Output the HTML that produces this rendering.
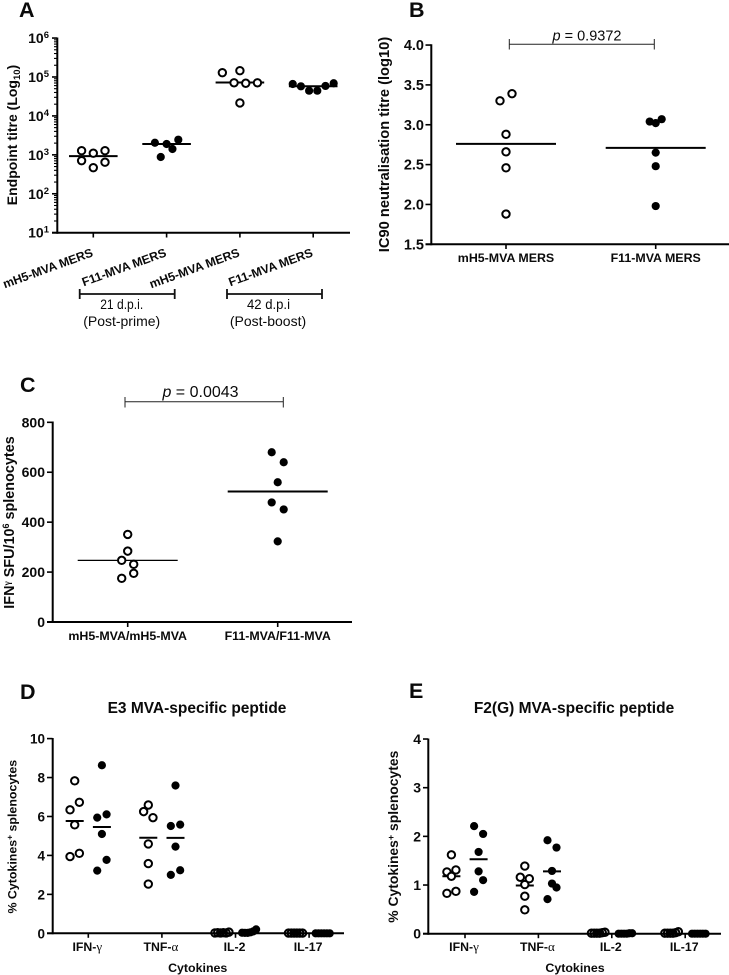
<!DOCTYPE html>
<html lang="en">
<head>
<meta charset="utf-8">
<title>Immune response scatter panels</title>
<style>
html,body{margin:0;padding:0;background:#fff;}
svg{display:block;font-family:"Liberation Sans",sans-serif;}
text{fill:#0a0a0a;}
.b{font-weight:700;}
</style>
</head>
<body>
<svg id="fig" xmlns="http://www.w3.org/2000/svg" width="729" height="975" viewBox="0 0 729 975">
  <rect width="729" height="975" fill="#fff"/>
  <text class="b" x="19" y="17" font-size="21.5">A</text>
  <text class="b" x="409" y="17" font-size="21.5">B</text>
  <text class="b" x="20" y="392" font-size="21.5">C</text>
  <text class="b" x="20" y="699" font-size="21.5">D</text>
  <text class="b" x="409" y="698" font-size="21.5">E</text>

  <text class="b" font-size="14" text-anchor="middle" transform="translate(17,135) rotate(-90)">Endpoint titre (Log<tspan font-size="9.5" dy="3">10</tspan><tspan dy="-3">)</tspan></text>
  <text class="b" font-size="14.7" text-anchor="middle" transform="translate(389,144.5) rotate(-90)">IC90 neutralisation titre (log10)</text>
  <text class="b" font-size="14.4" text-anchor="middle" transform="translate(14,522.5) rotate(-90)">IFN<tspan font-size="9" dy="-4" font-family="Liberation Serif">γ</tspan><tspan dy="4"> SFU/10</tspan><tspan font-size="9" dy="-5">6</tspan><tspan dy="5"> splenocytes</tspan></text>
  <text class="b" font-size="12.4" text-anchor="middle" transform="translate(16.5,836.7) rotate(-90)">% Cytokines<tspan font-size="8.5" dy="-4">+</tspan><tspan dy="4"> splenocytes</tspan></text>
  <text class="b" font-size="13.9" text-anchor="middle" transform="translate(398,836.7) rotate(-90)">% Cytokines<tspan font-size="9" dy="-4">+</tspan><tspan dy="4"> splenocytes</tspan></text>

  <g stroke="#111" stroke-width="1.8">
    <line x1="79.7" y1="294" x2="174.7" y2="294"/><line x1="79.7" y1="289" x2="79.7" y2="299"/><line x1="174.7" y1="289" x2="174.7" y2="299"/>
  </g>
  <g stroke="#111" stroke-width="1.8">
    <line x1="227" y1="294" x2="322" y2="294"/><line x1="227" y1="289" x2="227" y2="299"/><line x1="322" y1="289" x2="322" y2="299"/>
  </g>
  <text x="121.7" y="309" font-size="14" text-anchor="middle" textLength="43" lengthAdjust="spacingAndGlyphs">21 d.p.i.</text>
  <text x="121.7" y="326" font-size="14" text-anchor="middle">(Post-prime)</text>
  <text x="268.5" y="309" font-size="14" text-anchor="middle" textLength="43" lengthAdjust="spacingAndGlyphs">42 d.p.i</text>
  <text x="268" y="326" font-size="14" text-anchor="middle">(Post-boost)</text>

  <g stroke="#222" stroke-width="1">
    <line x1="509.3" y1="44.3" x2="654.3" y2="44.3"/><line x1="509.3" y1="39" x2="509.3" y2="49.5"/><line x1="654.3" y1="39" x2="654.3" y2="49.5"/>
  </g>
  <text x="587" y="40.5" font-size="14.5" text-anchor="middle"><tspan font-style="italic">p</tspan> = 0.9372</text>
  <g stroke="#222" stroke-width="1">
    <line x1="125" y1="401.7" x2="283.3" y2="401.7"/><line x1="125" y1="397" x2="125" y2="407.5"/><line x1="283.3" y1="397" x2="283.3" y2="407.5"/>
  </g>
  <text x="200.5" y="397" font-size="16" text-anchor="middle"><tspan font-style="italic">p</tspan> = 0.0043</text>

  <text class="b" x="197" y="713" font-size="15.5" text-anchor="middle">E3 MVA-specific peptide</text>
  <text class="b" x="574" y="713" font-size="15.5" text-anchor="middle">F2(G) MVA-specific peptide</text>
  <text class="b" x="197.7" y="972" font-size="12.4" text-anchor="middle">Cytokines</text>
  <text class="b" x="575" y="972" font-size="12.4" text-anchor="middle">Cytokines</text>
</svg>
<script>
// Panel A: endpoint titres
const aCategories = ['mH5-MVA MERS', 'F11-MVA MERS', 'mH5-MVA MERS', 'F11-MVA MERS'];
const aExponents = [1, 2, 3, 4, 5, 6];
const aSeries1 = [1276, 1100, 1276, 708, 646, 468];
const aSeries2 = [2040, 1900, 2450, 1410, 880];
const aSeries3 = [129000, 145000, 71000, 69000, 71000, 21500];
const aSeries4 = [66000, 57600, 44400, 44400, 58900, 69000];
const aMedians = [930, 1900, 72000, 58000];
const aSlots1 = [-2, 0, 2, -2, 2, 0];
const aSlots2 = [-2, 0, 2, 1, -1];
const aSlots3 = [-3, 0, -1, 1, 3, 0];
const aSlots4 = [-3.5, -2.1, -0.7, 0.7, 2.1, 3.5];

// Panel B: neutralisation titres
const bCategories = ['mH5-MVA MERS', 'F11-MVA MERS'];
const bTicks = ['1.5', '2.0', '2.5', '3.0', '3.5', '4.0'];
const bSeries1 = [3.30, 3.39, 2.88, 2.66, 2.46, 1.88];
const bSeries2 = [3.04, 3.02, 3.07, 2.65, 2.48, 1.98];
const bMedians = [2.76, 2.71];
const bSlots = [-1, 1, 0, 0, 0, 0];
const bSlots2 = [-1, 0, 1, 0, 0, 0];

// Panel C: IFN-gamma SFU
const cCategories = ['mH5-MVA/mH5-MVA', 'F11-MVA/F11-MVA'];
const cTicks = [0, 200, 400, 600, 800];
const cSeries1 = [351, 284, 247, 231, 195, 175];
const cSeries2 = [680, 640, 560, 479, 451, 323];
const cMedians = [247, 523];
const cSlots1 = [0, 0, -1, 1, 1, -1];
const cSlots2 = [-1, 1, 0, -1, 1, 0];

// Panel D: E3 peptide
const cytokines = ['IFN-', 'TNF-', 'IL-2', 'IL-17'];
const cytokineGreek = ['γ', 'α', '', ''];
const dTicks = [0, 2, 4, 6, 8, 10];
const dIfnOpen = [7.83, 6.34, 6.73, 5.57, 3.94, 4.11];
const dIfnFilled = [8.63, 5.94, 6.11, 5.10, 3.77, 3.22];
const dTnfOpen = [6.59, 6.25, 5.94, 4.59, 3.58, 2.53];
const dTnfFilled = [7.59, 5.51, 5.58, 4.45, 3.24, 3.0];
const dIl2Open = [0.02, 0.03, 0.02, 0.03, 0.02, 0.06];
const dIl2Filled = [0.03, 0.02, 0.02, 0.05, 0.1, 0.2];
const dIl17Open = [0.01, 0.01, 0.01, 0.01, 0.01, 0.01];
const dIl17Filled = [0.0, 0.0, 0.0, 0.0, 0.0, 0.0];
const dMediansOpen = [5.77, 4.91, 0.02, 0.01];
const dMediansFilled = [5.46, 4.90, 0.04, 0.0];
const dSlotsIfnOpen = [0, -1, 1, 0, -1, 1];
const dSlotsIfnFilled = [0, -1, 1, 0, 1, -1];
const dSlotsTnfOpen = [0, -1, 1, 0, 0, 0];
const dSlotsTnfFilled = [0, -1, 1, 0, 1, -1];
const rowSlots = [-1.5, -0.9, -0.3, 0.3, 0.9, 1.5];

// Panel E: F2(G) peptide
const eTicks = [0, 1, 2, 3, 4];
const eIfnOpen = [1.62, 1.27, 1.31, 1.18, 0.83, 0.87];
const eIfnFilled = [2.21, 2.05, 1.68, 1.28, 1.10, 0.86];
const eTnfOpen = [1.39, 1.16, 1.13, 1.01, 0.77, 0.49];
const eTnfFilled = [1.92, 1.77, 1.29, 1.03, 0.95, 0.71];
const eIl2Open = [0.01, 0.01, 0.01, 0.01, 0.02, 0.03];
const eIl2Filled = [0.0, 0.0, 0.0, 0.0, 0.01, 0.01];
const eIl17Open = [0.01, 0.01, 0.01, 0.01, 0.02, 0.04];
const eIl17Filled = [0.0, 0.0, 0.0, 0.0, 0.0, 0.0];
const eMediansOpen = [1.18, 0.99, 0.01, 0.01];
const eMediansFilled = [1.53, 1.28, 0.0, 0.0];
const eSlotsIfnOpen = [0, -1, 1, 0, -1, 1];
const eSlotsIfnFilled = [-1, 1, 0, 0, 1, -1];
const eSlotsTnfOpen = [0, -1, 1, 0, 0, 0];
const eSlotsTnfFilled = [-1, 1, 0, 0, 1, -1];

const NS = 'http://www.w3.org/2000/svg';
const fig = document.getElementById('fig');
const OPEN_R = 3.7;
const FILLED_R = 4.1;
const AXIS_W = 2;
const TICK_W = 1.6;
const MEDIAN_W = 2;

function line(x1, y1, x2, y2, w, name) {
  const el = document.createElementNS(NS, 'line');
  
  
  el.setAttribute('x1', x1);
  el.setAttribute('y1', y1);
  el.setAttribute('x2', x2);
  el.setAttribute('y2', y2);
  el.setAttribute('stroke', '#000');
  el.setAttribute('stroke-width', w);
  fig.appendChild(el);
}
// kind: 'open' white-filled ring, 'row' unfilled ring that overlaps into a blob, 'filled' solid dot
function dot(cx, cy, kind, name) {
  const el = document.createElementNS(NS, 'circle');
  
  
  el.setAttribute('cx', cx);
  el.setAttribute('cy', cy);
  el.setAttribute('r', kind === 'filled' ? FILLED_R : OPEN_R);
  el.setAttribute('fill', kind === 'filled' ? '#000' : (kind === 'open' ? '#fff' : 'none'));
  el.setAttribute('stroke', kind === 'filled' ? 'none' : '#000');
  el.setAttribute('stroke-width', kind === 'filled' ? 0 : 2);
  fig.appendChild(el);
}
function label(x, y, str, size, anchor, name) {
  const el = document.createElementNS(NS, 'text');
  
  
  el.setAttribute('class', 'b');
  el.setAttribute('x', x);
  el.setAttribute('y', y);
  el.setAttribute('font-size', size);
  el.setAttribute('text-anchor', anchor);
  el.textContent = str;
  fig.appendChild(el);
  return el;
}
function series(values, slots, xCenter, yFn, slotW, kind, name) {
  values.forEach(function (v, i) {
    dot(xCenter + slots[i] * slotW, yFn(v), kind, name + '-point');
  });
}
function median(v, xCenter, half, yFn, w, name) {
  line(xCenter - half, yFn(v), xCenter + half, yFn(v), w, name + '-median');
}

// ---------- Panel A ----------
const xA = function (i) { return 93.3 + i * 73.3; };
const yA = function (v) { return 232.7 - (Math.log10(v) - 1) * 38.93; };
aMedians.forEach(function (m, i) { median(m, xA(i), 24.3, yA, MEDIAN_W, 'group-' + i); });
series(aSeries1, aSlots1, xA(0), yA, 5.85, 'open', 'a-mh5-21dpi');
series(aSeries2, aSlots2, xA(1), yA, 5.85, 'filled', 'a-f11-21dpi');
series(aSeries3, aSlots3, xA(2), yA, 5.85, 'open', 'a-mh5-42dpi');
series(aSeries4, aSlots4, xA(3), yA, 5.85, 'filled', 'a-f11-42dpi');
line(57.3, 37.5, 57.3, 233.7, AXIS_W, 'y-axis-a');
line(52, 232.7, 350, 232.7, AXIS_W, 'x-axis-a');
aExponents.forEach(function (e, idx) {
  const base = Math.pow(10, e);
  line(52, yA(base), 57, yA(base), TICK_W, 'y-tick-a');
  const t = label(39, yA(base) + 5, '10', 14, 'end', 'y-tick-label-a');
  const sup = document.createElementNS(NS, 'tspan');
  sup.setAttribute('font-size', '9.5');
  sup.setAttribute('dy', '-5');
  sup.textContent = e;
  t.appendChild(sup);
  t.setAttribute('x', 49);
  if (idx < aExponents.length - 1) {
    for (let k = 2; k < 10; k++) {
      line(54, yA(base * k), 57, yA(base * k), 1.1, 'y-minor-tick-a');
    }
  }
});
aCategories.forEach(function (c, i) {
  line(xA(i), 232.7, xA(i), 237.5, TICK_W, 'x-tick-a');
  const t = label(xA(i) + 0.5, 256, c, 12.2, 'end', 'x-tick-label-a');
  t.setAttribute('transform', 'rotate(-20 ' + (xA(i) + 0.5) + ' 256)');
});

// ---------- Panel B ----------
const xB = function (i) { return 506 + i * 149.7; };
const yB = function (v) { return 244.3 - (v - 1.5) * 79.7; };
bMedians.forEach(function (m, i) { median(m, xB(i), 50, yB, MEDIAN_W, 'b-group-' + i); });
series(bSeries1, bSlots, xB(0), yB, 6, 'open', 'b-mh5');
series(bSeries2, bSlots2, xB(1), yB, 6, 'filled', 'b-f11');
line(431.3, 44.3, 431.3, 245.3, AXIS_W, 'y-axis-b');
line(425.5, 244.3, 729, 244.3, AXIS_W, 'x-axis-b');
bTicks.forEach(function (t) {
  line(425.5, yB(+t), 431, yB(+t), TICK_W, 'y-tick-b');
  label(424, yB(+t) + 5, t, 14.5, 'end', 'y-tick-label-b');
});
bCategories.forEach(function (c, i) {
  line(xB(i), 244.3, xB(i), 249, TICK_W, 'x-tick-b');
  label(xB(i), 262, c, 12.4, 'middle', 'x-tick-label-b');
});

// ---------- Panel C ----------
const xC = function (i) { return 127.7 + i * 150; };
const yC = function (v) { return 622 - v * 0.2496; };
cMedians.forEach(function (m, i) { median(m, xC(i), 50, yC, i === 0 ? 1.2 : MEDIAN_W, 'c-group-' + i); });
series(cSeries1, cSlots1, xC(0), yC, 6, 'open', 'c-mh5');
series(cSeries2, cSlots2, xC(1), yC, 6, 'filled', 'c-f11');
line(52.7, 421.5, 52.7, 623, AXIS_W, 'y-axis-c');
line(47, 622, 352, 622, AXIS_W, 'x-axis-c');
cTicks.forEach(function (t) {
  line(47, yC(t), 52.5, yC(t), TICK_W, 'y-tick-c');
  label(45, yC(t) + 5, t, 14, 'end', 'y-tick-label-c');
});
cCategories.forEach(function (c, i) {
  line(xC(i), 622, xC(i), 627, TICK_W, 'x-tick-c');
  label(xC(i), 640, c, 12.4, 'middle', 'x-tick-label-c');
});

// ---------- Panels D and E ----------
function cytokineLabels(xFn, y0, prefix) {
  cytokines.forEach(function (c, i) {
    line(xFn(i), y0, xFn(i), y0 + 4.5, TICK_W, 'x-tick-' + prefix);
    const t = label(xFn(i) - 1, 951, c, 12.3, 'middle', 'x-tick-label-' + prefix);
    if (cytokineGreek[i]) {
      const g = document.createElementNS(NS, 'tspan');
      g.setAttribute('font-family', '"Liberation Serif",serif');
      g.setAttribute('font-weight', '400');
      g.setAttribute('font-size', '13');
      g.textContent = cytokineGreek[i];
      t.appendChild(g);
    }
  });
}
const xD = function (i) { return 88.3 + i * 73.6; };
const yD = function (v) { return 933.3 - v * 19.47; };
dMediansOpen.forEach(function (m, i) { if (i < 2) median(m, xD(i) - 13.6, 9, yD, MEDIAN_W, 'd-open-' + i); });
dMediansFilled.forEach(function (m, i) { if (i < 2) median(m, xD(i) + 13.6, 9, yD, MEDIAN_W, 'd-filled-' + i); });
line(52.7, 738, 52.7, 934.3, AXIS_W, 'y-axis-d');
line(47, 933.3, 344, 933.3, AXIS_W, 'x-axis-d');
series(dIfnOpen, dSlotsIfnOpen, xD(0) - 13.6, yD, 4.67, 'open', 'd-ifn-open');
series(dIfnFilled, dSlotsIfnFilled, xD(0) + 13.6, yD, 4.67, 'filled', 'd-ifn-filled');
series(dTnfOpen, dSlotsTnfOpen, xD(1) - 13.6, yD, 4.67, 'open', 'd-tnf-open');
series(dTnfFilled, dSlotsTnfFilled, xD(1) + 13.6, yD, 4.67, 'filled', 'd-tnf-filled');
series(dIl2Open, rowSlots, xD(2) - 13.6, yD, 4.67, 'row', 'd-il2-open');
series(dIl2Filled, rowSlots, xD(2) + 13.6, yD, 4.67, 'filled', 'd-il2-filled');
series(dIl17Open, rowSlots, xD(3) - 13.6, yD, 4.67, 'row', 'd-il17-open');
series(dIl17Filled, rowSlots, xD(3) + 13.6, yD, 4.67, 'filled', 'd-il17-filled');
dTicks.forEach(function (t) {
  line(47, yD(t), 52.5, yD(t), TICK_W, 'y-tick-d');
  label(45, yD(t) + 5, t, 13.5, 'end', 'y-tick-label-d');
});
cytokineLabels(xD, 933.3, 'd');

const xE = function (i) { return 465 + i * 73.4; };
const yE = function (v) { return 933.7 - v * 48.67; };
eMediansOpen.forEach(function (m, i) { if (i < 2) median(m, xE(i) - 13.6, 9, yE, MEDIAN_W, 'e-open-' + i); });
eMediansFilled.forEach(function (m, i) { if (i < 2) median(m, xE(i) + 13.6, 9, yE, MEDIAN_W, 'e-filled-' + i); });
line(428.3, 738.5, 428.3, 934.7, AXIS_W, 'y-axis-e');
line(423, 933.7, 721, 933.7, AXIS_W, 'x-axis-e');
series(eIfnOpen, eSlotsIfnOpen, xE(0) - 13.6, yE, 4.5, 'open', 'e-ifn-open');
series(eIfnFilled, eSlotsIfnFilled, xE(0) + 13.6, yE, 4.5, 'filled', 'e-ifn-filled');
series(eTnfOpen, eSlotsTnfOpen, xE(1) - 13.6, yE, 4.5, 'open', 'e-tnf-open');
series(eTnfFilled, eSlotsTnfFilled, xE(1) + 13.6, yE, 4.5, 'filled', 'e-tnf-filled');
series(eIl2Open, rowSlots, xE(2) - 13.6, yE, 4.5, 'row', 'e-il2-open');
series(eIl2Filled, rowSlots, xE(2) + 13.6, yE, 4.5, 'filled', 'e-il2-filled');
series(eIl17Open, rowSlots, xE(3) - 13.6, yE, 4.5, 'row', 'e-il17-open');
series(eIl17Filled, rowSlots, xE(3) + 13.6, yE, 4.5, 'filled', 'e-il17-filled');
eTicks.forEach(function (t) {
  line(423, yE(t), 428, yE(t), TICK_W, 'y-tick-e');
  label(421, yE(t) + 5, t, 14, 'end', 'y-tick-label-e');
});
cytokineLabels(xE, 933.7, 'e');
</script>
</body>
</html>
